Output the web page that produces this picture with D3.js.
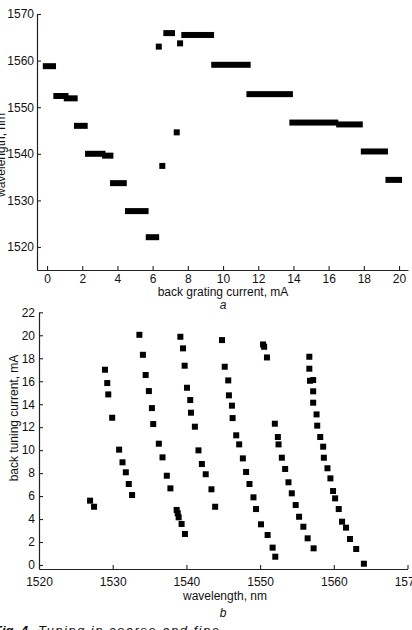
<!DOCTYPE html>
<html><head><meta charset="utf-8">
<script src="https://cdn.jsdelivr.net/npm/d3@7"></script>
<style>
html,body{margin:0;padding:0;background:#fff;overflow:hidden;}
svg{display:block;}
text{font-family:"Liberation Sans",Arial,sans-serif;fill:#111;}
</style></head>
<body>
<svg id="c" width="412" height="630"></svg>
<script>
// ---- panel a: back grating current (mA) vs wavelength (nm); runs of measured points
const runStartCurrent = [-0.07, 0.53, 1.12, 1.70, 2.33, 3.30, 3.75, 4.60, 5.78, 6.35, 6.55, 6.78, 7.37, 7.56, 7.80, 9.50, 11.50, 13.94, 16.60, 18.00, 19.40];
const runEndCurrent   = [ 0.34, 1.05, 1.57, 2.14, 3.15, 3.60, 4.36, 5.60, 6.20, 6.35, 6.55, 7.10, 7.37, 7.56, 9.32, 11.40, 13.80, 16.38, 17.77, 19.20, 20.00];
const runWavelength   = [1558.8, 1552.4, 1551.9, 1546.0, 1540.0, 1539.6, 1533.7, 1527.7, 1522.1, 1563.0, 1537.4, 1565.9, 1544.6, 1563.7, 1565.5, 1559.1, 1552.8, 1546.7, 1546.3, 1540.5, 1534.4];
const aTicksX = [0, 2, 4, 6, 8, 10, 12, 14, 16, 18, 20];
const aTicksY = [1520, 1530, 1540, 1550, 1560, 1570];

// ---- panel b: wavelength (nm) vs back tuning current (mA)
const scanWavelength = [
  1526.93, 1527.47,
  1528.95, 1529.26, 1529.40, 1529.93, 1530.87, 1531.33, 1531.78, 1532.18, 1532.63,
  1533.62, 1534.10, 1534.47, 1534.91, 1535.32, 1535.50, 1536.26, 1536.76, 1537.34, 1537.83, 1538.68, 1538.82, 1538.95, 1539.35, 1539.80,
  1539.18, 1539.54, 1539.76, 1540.08, 1540.52, 1540.62, 1541.15, 1541.64, 1542.10, 1542.62, 1543.40, 1543.90,
  1544.83, 1545.20, 1545.68, 1545.77, 1546.18, 1546.27, 1546.76, 1547.16, 1547.66, 1548.10, 1548.56, 1549.10, 1549.45, 1550.12, 1551.02, 1551.70, 1552.06,
  1550.40, 1550.55, 1550.93, 1552.00, 1552.41, 1552.50, 1552.95, 1553.40, 1553.85, 1554.30, 1554.83, 1555.29, 1555.87, 1556.45, 1557.26,
  1556.68, 1556.68, 1556.77, 1557.20, 1557.20, 1557.20, 1557.66, 1557.75, 1558.16, 1558.56, 1558.65, 1559.14, 1559.54, 1559.90, 1560.18, 1560.67, 1561.12, 1561.66, 1562.20, 1563.04, 1564.08
];
const scanCurrent = [
  5.60, 5.07,
  17.00, 15.84, 14.85, 12.82, 10.04, 8.94, 8.07, 7.05, 6.09,
  20.04, 18.30, 16.54, 15.14, 13.66, 12.27, 10.56, 9.37, 7.77, 6.67, 4.79, 4.50, 4.15, 3.57, 2.70,
  19.87, 18.86, 17.35, 15.43, 14.36, 13.26, 12.04, 9.98, 8.79, 7.90, 6.59, 5.07,
  19.58, 17.26, 16.07, 14.77, 13.87, 12.79, 11.29, 10.50, 9.28, 8.10, 7.05, 5.89, 4.87, 3.54, 2.61, 1.51, 0.72,
  19.20, 19.00, 18.07, 12.30, 11.14, 10.50, 9.34, 8.36, 7.20, 6.24, 5.22, 4.20, 3.33, 2.32, 1.45,
  18.13, 17.09, 16.04, 16.10, 15.12, 14.13, 13.11, 12.13, 11.14, 10.30, 9.34, 8.42, 7.54, 6.44, 5.80, 4.87, 3.77, 3.25, 2.26, 1.39, 0.11
];
const bTicksX = [1520, 1530, 1540, 1550, 1560, 1570];
const bTicksY = [0, 2, 4, 6, 8, 10, 12, 14, 16, 18, 20, 22];

const svg = d3.select("#c");
const H = 3; // half size of square marker
const fmt = d3.format("d");

function styleAxis(g){
  g.selectAll("path.domain").attr("stroke","#222").attr("stroke-width",1.2);
  g.selectAll(".tick line").attr("stroke","#222").attr("stroke-width",1.1);
  g.selectAll(".tick text").attr("font-size",12).attr("fill","#111")
    .attr("font-family","Liberation Sans, Arial, sans-serif");
}

// ---------- panel a ----------
const xa = d3.scaleLinear().domain([-0.57, 20.51]).range([37, 408]);
const ya = d3.scaleLinear().domain([1515.06, 1570]).range([270, 14]);

svg.append("g").attr("transform","translate(0,270)")
  .call(d3.axisBottom(xa).tickValues(aTicksX).tickFormat(fmt).tickSizeInner(-4).tickSizeOuter(0).tickPadding(4))
  .call(styleAxis);
svg.append("g").attr("transform","translate(37,0)")
  .call(d3.axisLeft(ya).tickValues(aTicksY).tickFormat(fmt).tickSizeInner(-4).tickSizeOuter(0).tickPadding(3))
  .call(styleAxis);

svg.append("g").selectAll("rect").data(runWavelength).join("rect")
  .attr("x",(d,i)=>xa(runStartCurrent[i]) - H)
  .attr("width",(d,i)=>xa(runEndCurrent[i]) - xa(runStartCurrent[i]) + 2*H)
  .attr("y",d=>ya(d) - H)
  .attr("height",2*H)
  .attr("fill","#000");

svg.append("text").attr("x",223).attr("y",296).attr("text-anchor","middle")
  .attr("font-size",12).text("back grating current, mA");
svg.append("text").attr("x",223).attr("y",309).attr("text-anchor","middle")
  .attr("font-size",12).attr("font-style","italic").text("a");
svg.append("text").attr("transform","translate(5,155) rotate(-90)").attr("text-anchor","middle")
  .attr("font-size",12).text("wavelength, nm");

// ---------- panel b ----------
const xb = d3.scaleLinear().domain([1520, 1570]).range([39, 407.5]);
const yb = d3.scaleLinear().domain([-0.35, 22]).range([569, 312.3]);

svg.append("g").attr("transform","translate(0,569)")
  .call(d3.axisBottom(xb).tickValues(bTicksX).tickFormat(fmt).tickSizeInner(-4).tickSizeOuter(0).tickPadding(8))
  .call(styleAxis);
svg.append("g").attr("transform","translate(39,0)")
  .call(d3.axisLeft(yb).tickValues(bTicksY).tickFormat(fmt).tickSizeInner(-4).tickSizeOuter(0).tickPadding(4))
  .call(styleAxis);

svg.append("g").selectAll("rect").data(scanCurrent).join("rect")
  .attr("x",(d,i)=>xb(scanWavelength[i]) - H)
  .attr("y",d=>yb(d) - H)
  .attr("width",2*H).attr("height",2*H)
  .attr("fill","#000");

svg.append("text").attr("x",225).attr("y",600).attr("text-anchor","middle")
  .attr("font-size",12).text("wavelength, nm");
svg.append("text").attr("x",223).attr("y",617).attr("text-anchor","middle")
  .attr("font-size",12).attr("font-style","italic").text("b");
svg.append("text").attr("transform","translate(18,418) rotate(-90)").attr("text-anchor","middle")
  .attr("font-size",12).text("back tuning current, mA");

// caption (cut off by the page bottom, as in the reference)
const cap = svg.append("text").attr("x",-6).attr("y",635)
  .attr("font-family","Liberation Serif, serif").attr("font-size",13).attr("font-style","italic");
cap.append("tspan").attr("font-weight","bold").text("Fig. 4");
cap.append("tspan").attr("dx",10).attr("letter-spacing",1.5).text("Tuning in coarse and fine");
</script>
</body></html>
